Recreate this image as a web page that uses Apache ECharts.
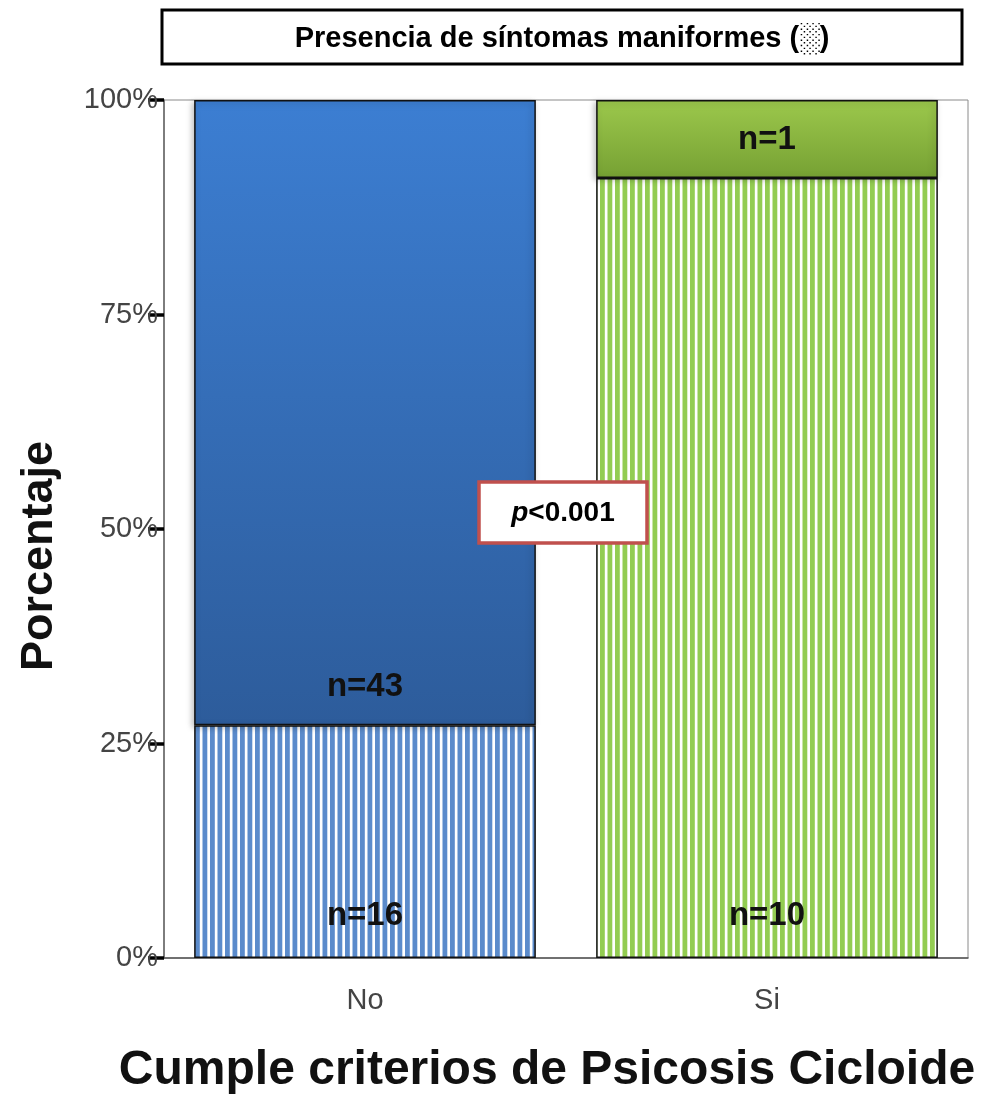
<!DOCTYPE html>
<html>
<head>
<meta charset="utf-8">
<script src="https://cdn.jsdelivr.net/npm/echarts@6/dist/echarts.min.js"></script>
<style>
  html, body { margin: 0; padding: 0; background: #fff; }
  #chart { width: 990px; height: 1095px; }
</style>
</head>
<body>
<div id="chart"></div>
<script>
  // datos
  const categorias = ['No', 'Si'];
  const nRayado = [16, 10];   // presencia de síntomas manifiestos (rayado)
  const nSolido = [43, 1];
  const ticksY = [0, 25, 50, 75, 100];

  const totales = categorias.map((c, i) => nRayado[i] + nSolido[i]);
  const pctRayado = nRayado.map((v, i) => v / totales[i] * 100);
  const pctSolido = nSolido.map((v, i) => v / totales[i] * 100);

  const font = '"Liberation Sans", Arial, sans-serif';

  // patron de rayas verticales
  const rayas = (color) => {
    const c = document.createElement('canvas');
    c.width = 15; c.height = 4;
    const ctx = c.getContext('2d');
    ctx.fillStyle = '#fff';
    ctx.fillRect(0, 0, 15, 4);
    ctx.fillStyle = color;
    ctx.fillRect(0, 0, 4.8, 4);
    ctx.fillRect(7.5, 0, 4.8, 4);
    return { image: c, repeat: 'repeat' };
  };
  const grad = (top, bottom) => new echarts.graphic.LinearGradient(0, 0, 0, 1, [
    { offset: 0, color: top },
    { offset: 1, color: bottom }
  ]);

  const colRayas = [rayas('#5B8BCB'), rayas('#93CC52')];
  const colSolido = [grad('#3C7ED2', '#2D5C9B'), grad('#9CC84C', '#76A133')];

  const etiqueta = (n, d) => ({
    show: true,
    position: 'insideBottom',
    distance: d,
    formatter: 'n=' + n,
    fontFamily: font,
    fontSize: 33,
    fontWeight: 'bold',
    color: '#111'
  });

  var myChart = echarts.init(document.getElementById('chart'));
  var option = {
    animation: false,
    grid: {
      left: 164, top: 100, right: 22, bottom: 137,
      outerBoundsMode: 'none',
      containLabel: false,
      show: true, borderColor: '#8a8a8a', borderWidth: 1
    },
    xAxis: {
      type: 'category',
      data: categorias,
      name: 'Cumple criterios de Psicosis Cicloide',
      nameLocation: 'middle',
      nameGap: 89,
      nameTextStyle: { fontFamily: font, fontSize: 48, fontWeight: 'bold', color: '#111', padding: [0, 38, 0, 0] },
      axisLine: { lineStyle: { color: '#555', width: 1.5 } },
      axisTick: { alignWithLabel: true, length: 13, lineStyle: { color: '#000', width: 2.5 } },
      axisLabel: { margin: 28, fontFamily: font, fontSize: 29, color: '#444' }
    },
    yAxis: {
      type: 'value',
      min: ticksY[0],
      max: ticksY[ticksY.length - 1],
      interval: 25,
      name: 'Porcentaje',
      nameLocation: 'middle',
      nameGap: 102,
      nameRotate: 90,
      nameTextStyle: { fontFamily: font, fontSize: 45, fontWeight: 'bold', color: '#111', padding: [0, 54, 0, 0] },
      axisLine: { show: true, lineStyle: { color: '#666', width: 1.5 } },
      axisTick: { show: true, length: 16, lineStyle: { color: '#000', width: 3.5 } },
      splitLine: { show: false },
      axisLabel: { margin: 6, fontFamily: font, fontSize: 29, color: '#444', formatter: '{value}%' }
    },
    series: [
      {
        type: 'bar',
        stack: 'total',
        barWidth: '85%',
        data: pctRayado.map((v, i) => ({
          value: v,
          itemStyle: { color: colRayas[i] },
          label: etiqueta(nRayado[i], 26)
        })),
        itemStyle: { borderColor: '#111', borderWidth: 1.5 }
      },
      {
        type: 'bar',
        stack: 'total',
        barWidth: '85%',
        data: pctSolido.map((v, i) => ({
          value: v,
          itemStyle: { color: colSolido[i] },
          label: etiqueta(nSolido[i], 22)
        })),
        itemStyle: {
          borderColor: '#111', borderWidth: 1.5,
          shadowColor: 'rgba(0,0,0,0.25)', shadowBlur: 6, shadowOffsetX: -2, shadowOffsetY: 2
        }
      }
    ],
    graphic: [
      {
        type: 'rect',
        shape: { x: 162, y: 10, width: 800, height: 54 },
        style: { fill: '#fff', stroke: '#000', lineWidth: 3 }
      },
      {
        type: 'text',
        x: 562, y: 39,
        style: {
          text: 'Presencia de síntomas maniformes (░)',
          font: 'bold 29px "Liberation Sans Narrow", "Liberation Sans", Arial, sans-serif',
          fill: '#000', align: 'center', verticalAlign: 'middle'
        }
      },
      {
        type: 'rect',
        z: 100,
        shape: { x: 479, y: 482, width: 168, height: 61 },
        style: { fill: '#fff', stroke: '#C0504D', lineWidth: 3.5 }
      },
      {
        type: 'text',
        z: 101,
        x: 563, y: 513,
        style: {
          text: '{p|p}{v|<0.001}',
          align: 'center', verticalAlign: 'middle',
          rich: {
            p: { fontFamily: font, fontSize: 28, fontWeight: 'bold', fontStyle: 'italic', color: '#C00000' },
            v: { fontFamily: font, fontSize: 28, fontWeight: 'bold', color: '#C00000' }
          }
        }
      }
    ]
  };
  option && myChart.setOption(option);
</script>
</body>
</html>
